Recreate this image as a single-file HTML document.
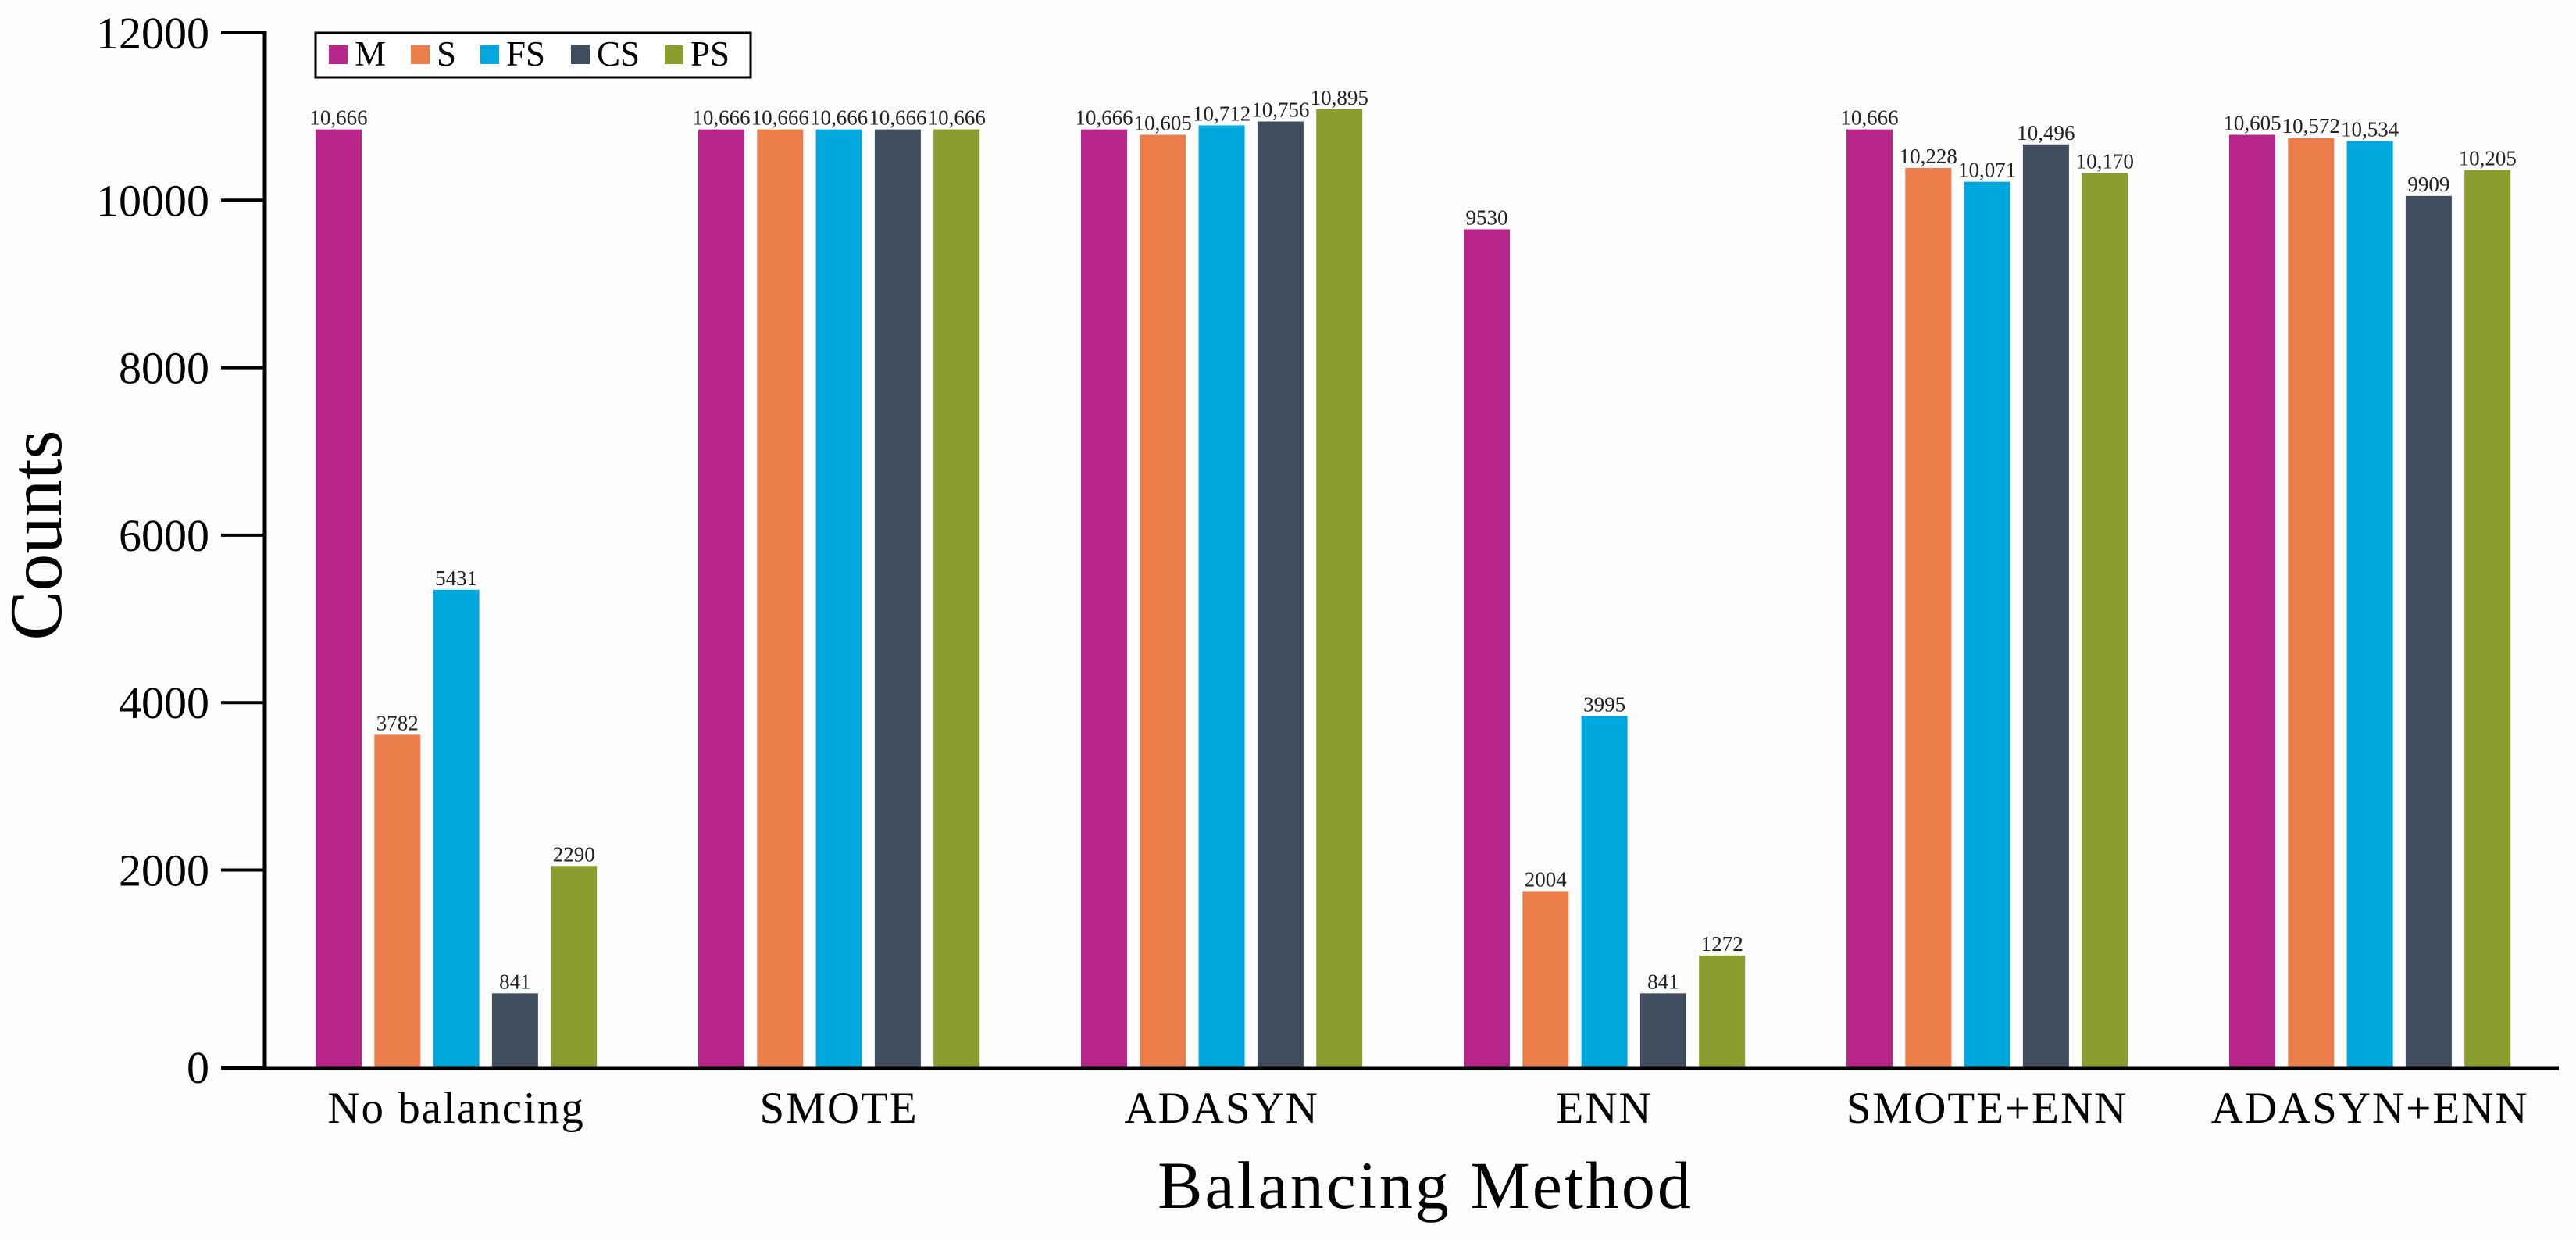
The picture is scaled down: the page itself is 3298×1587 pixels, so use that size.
<!DOCTYPE html>
<html><head><meta charset="utf-8"><style>
html,body{margin:0;padding:0;background:#fdfdfd;}
svg{display:block;font-family:"Liberation Serif",serif;}
</style></head><body>
<svg id="chart" width="3298" height="1587" viewBox="0 0 3298 1587" xmlns="http://www.w3.org/2000/svg">
<rect x="0" y="0" width="3298" height="1587" fill="#fdfdfd"/>
<g id="ticks"></g>
<g id="bars"></g>
<g id="axes"></g>
<g id="legend"></g>
<text x="78" y="685" font-size="95" text-anchor="middle" transform="rotate(-90 78 685)">Counts</text>
<text x="1825" y="1546" font-size="86" text-anchor="middle" letter-spacing="3">Balancing Method</text>
</svg>
<script>
const categories = ["No balancing","SMOTE","ADASYN","ENN","SMOTE+ENN","ADASYN+ENN"];
const seriesNames = ["M","S","FS","CS","PS"];
const seriesColors = ["#B8258A","#EB7D4B","#00A8DE","#404D5E","#8A9E30"];
const valuesM = [10666,10666,10666,9530,10666,10605];
const valuesS = [3782,10666,10605,2004,10228,10572];
const valuesFS = [5431,10666,10712,3995,10071,10534];
const valuesCS = [841,10666,10756,841,10496,9909];
const valuesPS = [2290,10666,10895,1272,10170,10205];
const yTicks = [0,2000,4000,6000,8000,10000,12000];

const NS = "http://www.w3.org/2000/svg";
const series = [valuesM,valuesS,valuesFS,valuesCS,valuesPS];
const baseY = 1366, kY = 0.11254;
function yBar(v){ return baseY - v*kY; }
function yTick(v){ return v===0 ? baseY : 42 + (12000 - v)*0.10715; }
function xBar(i,j){ return 404 + i*490 + j*75.3; }
const barW = 59;
function fmt(v){ return v>=10000 ? v.toLocaleString("en-US") : String(v); }
function mk(tag, attrs, parent){ const e=document.createElementNS(NS,tag); for(const k in attrs) e.setAttribute(k,attrs[k]); parent.appendChild(e); return e; }

const gT = document.getElementById("ticks");
yTicks.forEach(v=>{
  const y = yTick(v);
  const l = mk("line",{x1:283,x2:339,y1:y,y2:y,stroke:"#000","stroke-width":4},gT);
  
  
  const t = mk("text",{x:268,y:y+20,"font-size":58,"text-anchor":"end"},gT);
  
  
  t.textContent = v;
});

const gB = document.getElementById("bars");
categories.forEach((c,i)=>{
  series.forEach((arr,j)=>{
    const v = arr[i];
    const x = xBar(i,j), y = yBar(v);
    const r = mk("rect",{x:x,y:y,width:barW,height:baseY-y,fill:seriesColors[j]},gB);
    
    
    const t = mk("text",{x:x+barW/2,y:y-6,"font-size":27,"text-anchor":"middle",fill:"#222"},gB);
    
    
    t.textContent = fmt(v);
  });
  const cl = mk("text",{x:xBar(i,0)+ (4*75.3+barW)/2,y:1437,"font-size":57,"text-anchor":"middle","letter-spacing":2},gB);
  
  
  cl.textContent = c;
});

const gA = document.getElementById("axes");
const ya = mk("line",{x1:339,x2:339,y1:40,y2:1368,stroke:"#000","stroke-width":5},gA);


const xa = mk("line",{x1:283,x2:3276,y1:1367,y2:1367,stroke:"#000","stroke-width":5},gA);



const gL = document.getElementById("legend");
const lb = mk("rect",{x:404,y:42,width:557,height:57,fill:"#fff",stroke:"#000","stroke-width":3},gL);


const swX = [421,526,615,731,851];
seriesNames.forEach((n,j)=>{
  const s = mk("rect",{x:swX[j],y:58,width:24,height:24,fill:seriesColors[j]},gL);
  
  
  const t = mk("text",{x:swX[j]+33,y:84,"font-size":45},gL);
  
  
  t.textContent = n;
});
</script>
</body></html>
